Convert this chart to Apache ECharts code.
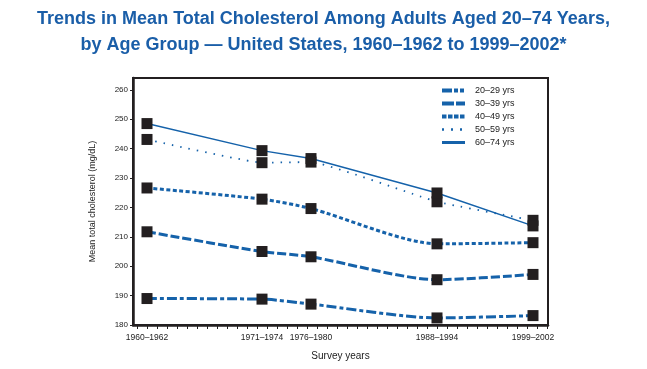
<!DOCTYPE html>
<html>
<head>
<meta charset="utf-8">
<script src="https://cdn.jsdelivr.net/npm/echarts@6/dist/echarts.min.js"></script>
<style>
html,body{margin:0;padding:0;background:#fff;}
#c{width:647px;height:369px;}
</style>
</head>
<body>
<div id="c"></div>
<script>
// ---- data ----
const surveyLabels = ['1960–1962', '1971–1974', '1976–1980', '1988–1994', '1999–2002'];
const surveyX = [1961, 1972.5, 1977.4, 1990, 1999.6];
const ageGroups = ['20–29 yrs', '30–39 yrs', '40–49 yrs', '50–59 yrs', '60–74 yrs'];
const v2029 = [189, 188.8, 187.1, 182.4, 183.2];
const v3039 = [211.7, 205, 203.2, 195.4, 197.2];
const v4049 = [226.6, 222.8, 219.6, 207.6, 208];
const v5059 = [243.1, 235.2, 235.4, 221.9, 215.6];
const v6074 = [248.5, 239.3, 236.6, 224.9, 213.7];
const yTicks = [180, 190, 200, 210, 220, 230, 240, 250, 260];
const xMinorTicks = [1960,1961,1962,1963,1964,1965,1966,1967,1968,1969,1970,1971,1972,1973,1974,1975,1976,1977,1978,1979,1980,1981,1982,1983,1984,1985,1986,1987,1988,1989,1990,1991,1992,1993,1994,1995,1996,1997,1998,1999,2000,2001];

const values = [v2029, v3039, v4049, v5059, v6074];
const blue = '#1562aa';
const styles = [
  {width: 3, type: [10, 3, 4, 3], smooth: 0.25, legendWidth: 4, legendType: [10, 2, 4, 2, 4, 2]},
  {width: 3, type: [9, 3], smooth: 0.25, legendWidth: 4, legendType: [12, 2]},
  {width: 3, type: [4, 2.5], smooth: 0.25, legendWidth: 4, legendType: [4.5, 1.5]},
  {width: 1.8, type: [1.5, 7], smooth: 0.1, legendWidth: 2.5, legendType: [2, 7]},
  {width: 1.5, type: 'solid', smooth: 0, legendWidth: 3, legendType: 'solid'}
];

const series = [];
ageGroups.forEach((name, i) => {
  series.push({
    name: name,
    type: 'line',
    data: surveyX.map((x, j) => [x, values[i][j]]),
    symbol: 'none',
    showSymbol: false,
    smooth: styles[i].smooth,
    lineStyle: {color: blue, width: styles[i].width, type: styles[i].type, cap: 'butt'},
    itemStyle: {color: blue},
    z: 2
  });
});
ageGroups.forEach((name, i) => {
  series.push({
    name: name + ' markers',
    type: 'scatter',
    data: surveyX.map((x, j) => [x, values[i][j]]),
    symbol: 'rect',
    symbolSize: 11,
    itemStyle: {color: '#231f20', opacity: 1},
    z: 5,
    silent: true
  });
});

const chart = echarts.init(document.getElementById('c'), null, {renderer: 'canvas'});
chart.setOption({
  animation: false,
  backgroundColor: '#fff',
  title: {
    text: 'Trends in Mean Total Cholesterol Among Adults Aged 20–74 Years,\nby Age Group — United States, 1960–1962 to 1999–2002*',
    left: 'center',
    top: 1,
    textStyle: {
      fontFamily: '"Liberation Sans", Arial, sans-serif',
      fontWeight: 'bold',
      fontSize: 18,
      lineHeight: 26,
      color: '#1a5ea8',
      align: 'center'
    }
  },
  legend: {
    data: ageGroups.map((n, i) => ({
      name: n,
      lineStyle: {width: styles[i].legendWidth, type: styles[i].legendType, cap: 'butt'}
    })),
    orient: 'vertical',
    left: 435,
    top: 81,
    itemWidth: 23,
    itemHeight: 6,
    itemGap: 4,
    itemStyle: {opacity: 0},
    textStyle: {fontFamily: '"Liberation Sans", Arial, sans-serif', fontSize: 9, color: '#222', padding: [0, 0, 0, 5]}
  },
  grid: {
    left: 133, right: 99, top: 78, bottom: 44,
    show: true, borderColor: '#231f20', borderWidth: 2, backgroundColor: 'transparent'
  },
  xAxis: {
    type: 'value',
    min: 1959.6,
    max: 2001.1,
    name: 'Survey years',
    nameLocation: 'middle',
    nameGap: 26,
    nameTextStyle: {fontFamily: '"Liberation Sans", Arial, sans-serif', fontSize: 10, color: '#222'},
    axisLine: {show: true, lineStyle: {color: '#231f20', width: 2.5}},
    axisTick: {show: true, customValues: xMinorTicks, length: 4, lineStyle: {color: '#231f20', width: 1}},
    axisLabel: {
      customValues: surveyX,
      formatter: function (v) {
        const k = surveyX.findIndex(x => Math.abs(x - v) < 0.01);
        return k >= 0 ? surveyLabels[k] : '';
      },
      fontFamily: '"Liberation Sans", Arial, sans-serif',
      fontSize: 8.5,
      color: '#222',
      margin: 8
    },
    splitLine: {show: false}
  },
  yAxis: {
    type: 'value',
    min: 180,
    max: 264,
    name: 'Mean total cholesterol (mg/dL)',
    nameLocation: 'middle',
    nameGap: 36,
    nameTextStyle: {fontFamily: '"Liberation Sans", Arial, sans-serif', fontSize: 9, color: '#222'},
    axisLine: {show: true, lineStyle: {color: '#231f20', width: 2.5}},
    axisTick: {show: true, customValues: yTicks, length: 3, lineStyle: {color: '#231f20', width: 1}},
    axisLabel: {
      customValues: yTicks,
      fontFamily: '"Liberation Sans", Arial, sans-serif',
      fontSize: 8,
      color: '#222',
      margin: 5
    },
    splitLine: {show: false}
  },
  series: series
});
</script>
</body>
</html>
